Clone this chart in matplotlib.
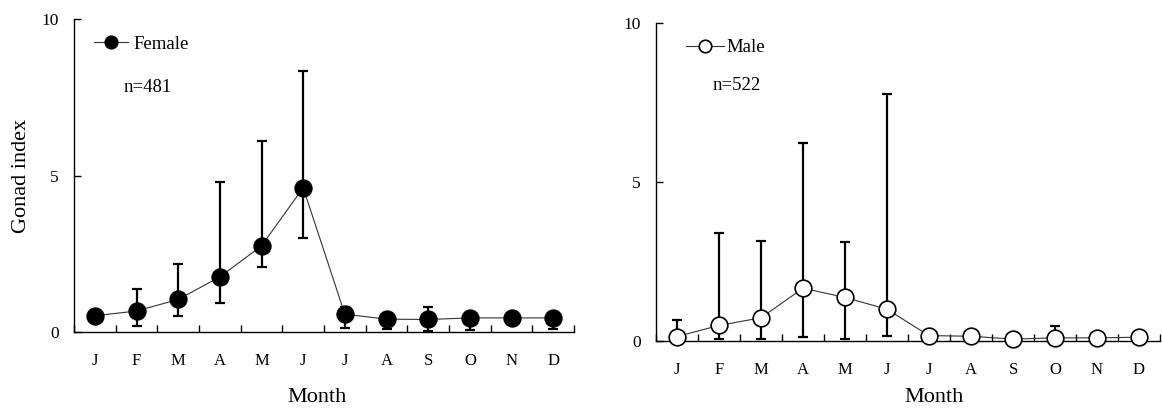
import numpy as np
import matplotlib
matplotlib.use("Agg")
import matplotlib.pyplot as plt

plt.rcParams['font.family'] = ['Liberation Serif', 'DejaVu Serif']

# Data
months = ['J', 'F', 'M', 'A', 'M', 'J', 'J', 'A', 'S', 'O', 'N', 'D']

female_mean = [0.52, 0.67, 1.04, 1.76, 2.75, 4.61, 0.57, 0.41, 0.40, 0.45, 0.45, 0.45]
female_low = [0.35, 0.19, 0.51, 0.94, 2.09, 3.01, 0.14, 0.10, 0.04, 0.06, 0.30, 0.08]
female_high = [0.70, 1.37, 2.17, 4.80, 6.10, 8.35, 0.80, 0.60, 0.79, 0.65, 0.60, 0.65]

male_mean = [0.13, 0.48, 0.72, 1.65, 1.36, 0.99, 0.16, 0.14, 0.05, 0.09, 0.09, 0.11]
male_low = [0.00, 0.05, 0.04, 0.13, 0.04, 0.16, 0.02, 0.03, 0.00, 0.00, 0.00, 0.00]
male_high = [0.65, 3.39, 3.14, 6.23, 3.10, 7.75, 0.35, 0.30, 0.20, 0.47, 0.25, 0.28]

W, H = 1162, 408
fig = plt.figure(figsize=(W / 100, H / 100), dpi=100)

# axes boxes in pixels
ax1 = fig.add_axes([74 / W, (H - 332) / H, 500 / W, 313 / H])
ax2 = fig.add_axes([656 / W, (H - 340.7) / H, 504 / W, 318 / H])


def draw_panel(ax, mean, low, high, face, label, ntext, leg_xy, hlen, hpad,
               n_xy, xlab_xy):
    x = np.arange(1, len(mean) + 1)
    mean = np.array(mean)
    yerr = [mean - np.array(low), np.array(high) - mean]
    ax.errorbar(x, mean, yerr=yerr, fmt='none', ecolor='black',
                elinewidth=1.6, capsize=3.6, capthick=1.6, zorder=2,
                clip_on=False)
    ax.plot(x, mean, '-', color='#333333', lw=0.8, zorder=3, clip_on=False)
    ax.plot(x, mean, 'o', ms=12, mfc=face, mec='black', mew=1.2,
            zorder=4, clip_on=False, ls='none')

    # legend handle
    h, = ax.plot([], [], '-o', color='#333333', lw=0.8, ms=9,
                 mfc=face, mec='black', mew=1.2, label=label)
    ax.legend(handles=[h], loc='center left', bbox_to_anchor=leg_xy,
              frameon=False, fontsize=13.5, handlelength=hlen,
              handletextpad=hpad, borderpad=0, borderaxespad=0)
    ax.text(n_xy[0], n_xy[1], ntext, transform=ax.transAxes,
            fontsize=13.5, va='center', ha='left')

    ax.set_xlim(0.5, len(mean) + 0.5)
    ax.set_ylim(0, 10)
    ax.set_yticks([0, 5, 10])
    ax.set_xticks(np.arange(0.5, len(mean) + 1, 1))
    ax.set_xticklabels([])
    ax.set_xticks(x, minor=True)
    ax.set_xticklabels(months, minor=True, fontsize=12)
    ax.tick_params(axis='x', which='major', direction='in', length=5, width=1)
    ax.tick_params(axis='x', which='minor', length=0, pad=15)
    ax.tick_params(axis='y', direction='in', length=5, width=1,
                   labelsize=12.5, pad=11)
    for s in ['top', 'right']:
        ax.spines[s].set_visible(False)
    for s in ['left', 'bottom']:
        ax.spines[s].set_linewidth(1)
    ax.set_xlabel('Month', fontsize=16)
    ax.xaxis.set_label_coords(*xlab_xy)


draw_panel(ax1, female_mean, female_low, female_high, 'black', 'Female',
           'n=481', (0.04, 0.92), 1.8, 0.32, (0.10, 0.78), (0.486, -0.178))
draw_panel(ax2, male_mean, male_low, male_high, 'white', 'Male',
           'n=522', (0.06, 0.921), 2.0, 0.15, (0.113, 0.804), (0.552, -0.148))

ax1.set_ylabel('Gonad index', fontsize=16)
ax1.yaxis.set_label_coords(-0.085, 0.5)

fig.savefig('out.png', dpi=100)
